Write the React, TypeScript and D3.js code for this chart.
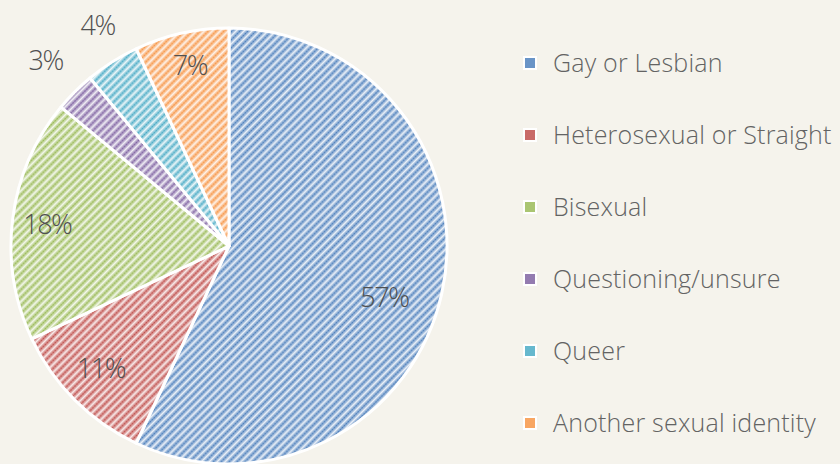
import React from "react";
import * as d3 from "d3";

const categories = [
  "Gay or Lesbian",
  "Heterosexual or Straight",
  "Bisexual",
  "Questioning/unsure",
  "Queer",
  "Another sexual identity",
];
const values = [57, 11, 18, 3, 4, 7];
const labels = ["57%", "11%", "18%", "3%", "4%", "7%"];
const baseColors = ["#4f81bd", "#c0504d", "#9bbb59", "#8064a2", "#4bacc6", "#f79646"];

const W = 840;
const H = 464;
const cx = 229;
const cy = 246;
const R = 218;

export default function App() {
  const pie = d3.pie<number>().sort(null).value((d) => d)(values);
  const arc = d3.arc<d3.PieArcDatum<number>>().innerRadius(0).outerRadius(R);
  // [radius fraction, angle offset in degrees]
  const labelPlacement: [number, number][] = [
    [0.75, 5.5], [0.81, 1.5], [0.84, 0], [1.2, 0.5], [1.18, 1.7], [0.85, 0.4],
  ];
  const legendY = d3.scalePoint<string>().domain(categories).range([62, 422]);

  return (
    <svg width={W} height={H} style={{ position: "absolute", left: 0, top: 0, background: "#f5f3ec" }}>
      <defs>
        {baseColors.map((c, i) => {
          const light = d3.interpolateRgb(c, "#ffffff")(0.6);
          const mid = d3.interpolateRgb(c, "#ffffff")(0.28);
          return (
            <pattern
              key={i}
              id={`hatch${i}`}
              width={5.6}
              height={5.6}
              patternUnits="userSpaceOnUse"
              patternTransform="rotate(45)"
            >
              <rect width={5.6} height={5.6} fill={light} />
              <line x1={1.4} y1={0} x2={1.4} y2={5.6} stroke={mid} strokeWidth={2} />
              <line x1={1.4} y1={0} x2={1.4} y2={5.6} stroke={c} strokeWidth={1.4} strokeDasharray="1.4 1.4" />
              <line x1={4.2} y1={0} x2={4.2} y2={5.6} stroke="#ffffff" strokeWidth={1} opacity={0.7} />
            </pattern>
          );
        })}
      </defs>
      <rect width={W} height={H} fill="#f5f3ec" />
      <g transform={`translate(${cx},${cy})`}>
        {pie.map((p, i) => (
          <path key={i} d={arc(p) || ""} fill={`url(#hatch${i})`} stroke="#ffffff" strokeWidth={3} strokeLinejoin="round" />
        ))}
        {pie.map((p, i) => {
          const a = (p.startAngle + p.endAngle) / 2 + (labelPlacement[i][1] * Math.PI) / 180;
          const r = R * labelPlacement[i][0];
          const x = Math.sin(a) * r;
          const y = -Math.cos(a) * r;
          return (
            <text
              key={i}
              x={x}
              y={y}
              textAnchor="middle"
              dominantBaseline="central"
              fontFamily="'Open Sans', 'Noto Sans', sans-serif"
              fontSize={27}
              fontWeight={300}
              fill="#505050"
              letterSpacing={-1.5}
            >
              {labels[i]}
            </text>
          );
        })}
      </g>
      <g>
        {categories.map((c, i) => {
          const y = legendY(c) as number;
          return (
            <g key={c}>
              <rect x={523} y={y - 6} width={14} height={14} fill="#ffffff" />
              <rect x={525} y={y - 4} width={10} height={10} fill={baseColors[i]} opacity={0.85} />
              <text
                x={553}
                y={y}
                dominantBaseline="central"
                fontFamily="'Open Sans', 'Noto Sans', sans-serif"
                fontSize={25}
                fontWeight={300}
                fill="#636363"
                letterSpacing={0.2}
              >
                {c}
              </text>
            </g>
          );
        })}
      </g>
    </svg>
  );
}
